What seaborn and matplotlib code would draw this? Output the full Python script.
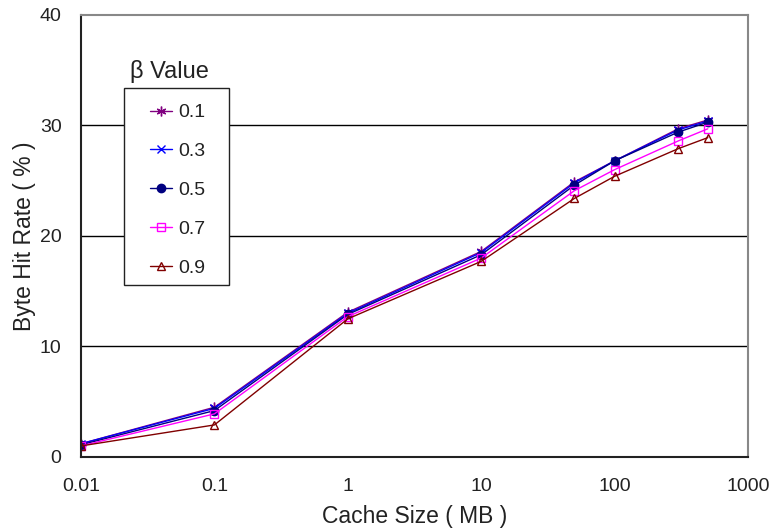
import matplotlib
matplotlib.use("Agg")
import matplotlib.pyplot as plt
from matplotlib.patches import Rectangle
import seaborn as sns
import pandas as pd

cache_sizes = [0.01, 0.1, 1, 10, 50, 100, 300, 500]
beta_labels = ["0.1", "0.3", "0.5", "0.7", "0.9"]
hit_b01 = [1.2, 4.5, 13.1, 18.6, 24.9, 26.8, 29.7, 30.5]
hit_b03 = [1.2, 4.4, 13.0, 18.5, 24.8, 26.8, 29.6, 30.4]
hit_b05 = [1.1, 4.2, 12.9, 18.3, 24.6, 26.8, 29.4, 30.3]
hit_b07 = [1.0, 3.9, 12.7, 18.0, 24.1, 26.0, 28.6, 29.7]
hit_b09 = [1.0, 2.9, 12.5, 17.7, 23.4, 25.4, 27.9, 28.9]
x_ticks = [0.01, 0.1, 1, 10, 100, 1000]
x_tick_labels = ["0.01", "0.1", "1", "10", "100", "1000"]
y_ticks = [0, 10, 20, 30, 40]

series = [hit_b01, hit_b03, hit_b05, hit_b07, hit_b09]
rows = []
for lab, vals in zip(beta_labels, series):
    for x, v in zip(cache_sizes, vals):
        rows.append({"cache": x, "hit": v, "beta": lab})
df = pd.DataFrame(rows)

sns.set_style("white")
plt.rcParams["font.family"] = ["Liberation Sans", "DejaVu Sans"]

fig = plt.figure(figsize=(7.75, 5.31), dpi=100)
ax = fig.add_axes([0.1045, 0.1394, 0.8606, 0.8324])

styles = {
    "0.1": dict(color="#800080", marker=(6, 2, 0), markersize=7, mfc="#800080", mew=1.0),
    "0.3": dict(color="#0000FF", marker="x", markersize=6, mfc="#0000FF", mew=1.0),
    "0.5": dict(color="#000080", marker="o", markersize=6, mfc="#000080", mew=1.0),
    "0.7": dict(color="#FF00FF", marker="s", markersize=6, mfc="none", mew=1.0),
    "0.9": dict(color="#800000", marker="^", markersize=6, mfc="none", mew=1.0),
}

for lab in beta_labels:
    st = styles[lab]
    sub = df[df["beta"] == lab]
    sns.lineplot(data=sub, x="cache", y="hit", ax=ax, color=st["color"],
                 marker=st["marker"], markersize=st["markersize"],
                 markerfacecolor=st["mfc"], markeredgecolor=st["color"],
                 markeredgewidth=st["mew"], linewidth=1.0, label=lab,
                 estimator=None, sort=False)

ax.set_xscale("log")
ax.set_xlim(0.01, 1000)
ax.set_ylim(0, 40)
ax.set_xticks(x_ticks)
ax.set_xticklabels(x_tick_labels)
ax.minorticks_off()
ax.set_yticks(y_ticks)
ax.tick_params(axis="both", direction="in", length=5, width=1, labelsize=14,
               colors="#222222")
ax.tick_params(axis="x", pad=15)
ax.tick_params(axis="y", pad=14)
for yv in [10, 20, 30]:
    ax.axhline(yv, color="black", linewidth=1.0, zorder=0)

for side in ["left", "bottom"]:
    ax.spines[side].set_color("#222222")
    ax.spines[side].set_linewidth(1.5)
for side in ["top", "right"]:
    ax.spines[side].set_visible(True)
    ax.spines[side].set_color("#888888")
    ax.spines[side].set_linewidth(1.5)

ax.set_xlabel("Cache Size ( MB )", fontsize=16.5, color="#222222", labelpad=7)
ax.set_ylabel("Byte Hit Rate ( % )", fontsize=16.5, color="#222222", labelpad=3)

# legend box drawn manually
ax.add_patch(Rectangle((0.0645, 0.389), 0.1574, 0.446, transform=ax.transAxes,
                       fill=True, facecolor="white", edgecolor="#222222",
                       linewidth=1.0, zorder=5))
leg = ax.legend(loc="upper left", bbox_to_anchor=(0.1034, 0.799), frameon=False,
                fontsize=14, handlelength=1.15, handletextpad=0.3,
                labelspacing=1.09, borderpad=0.0, borderaxespad=0.0)
leg.set_zorder(6)
for t in leg.get_texts():
    t.set_color("#222222")
ax.text(0.0735, 0.871, "β Value", transform=ax.transAxes, fontsize=17,
        color="#222222", ha="left", va="center")

fig.savefig("out.png", dpi=100)
